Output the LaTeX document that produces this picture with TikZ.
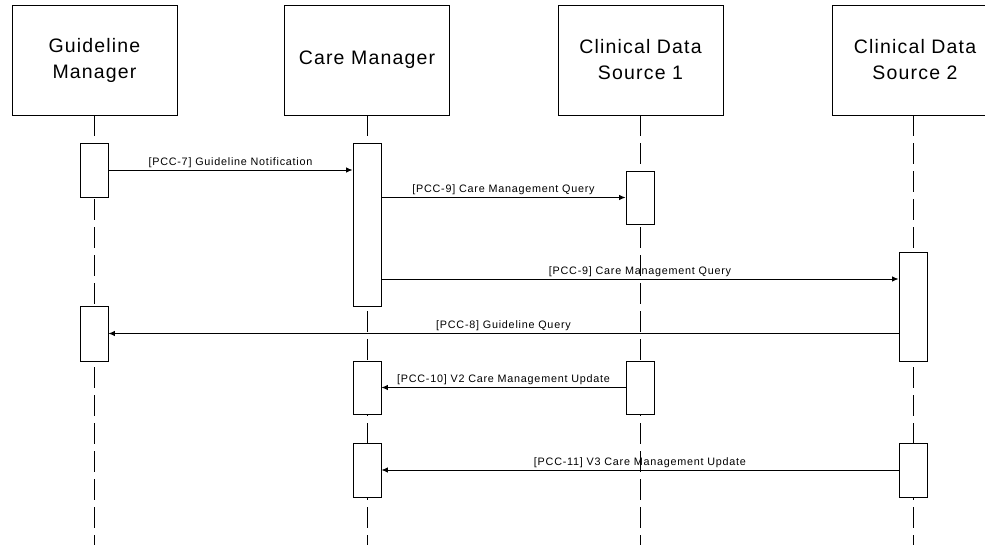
\documentclass[tikz,border=0pt]{standalone}
\usepackage{fontspec}
\setmainfont{Liberation Sans}
\newfontfamily\msgfont[LetterSpace=7]{Liberation Sans}
\newfontfamily\actorfont[LetterSpace=6]{Liberation Sans}
\usetikzlibrary{arrows.meta, positioning}
\tikzstyle{actor} = [draw, fill=white, rectangle, minimum width=165pt, minimum height=110pt, align=center, font=\actorfont\fontsize{19.5}{26}\selectfont]
\tikzstyle{act} = [draw, fill=white, rectangle, minimum width=28pt, inner sep=0pt]
\tikzstyle{lifeline} = [dash pattern=on 21pt off 7pt]
\tikzstyle{msglabel} = [above, inner sep=2pt, font=\msgfont\fontsize{10.8}{12}\selectfont]

\begin{document}
\begin{tikzpicture}[x=1pt, y=-1pt, line width=0.9pt, >={Latex[length=6.5pt,width=5.5pt]}]
      \useasboundingbox (0,0) rectangle (985,545);
      \clip (0,0) rectangle (985,545);
      % actors
      \node[actor] (GM) at (94.5,60) {Guideline\\Manager};
      \node[actor] (CM) at (367,60) {Care Manager};
      \node[actor] (CDSa) at (640.5,60) {Clinical Data\\Source 1};
      \node[actor] (CDSb) at (915,60) {Clinical Data\\Source 2};
      % lifelines
      \coordinate (GMend) at (94,545);
      \coordinate (CMend) at (367,545);
      \coordinate (CDSaend) at (640,545);
      \coordinate (CDSbend) at (913,545);
      \draw[lifeline] (GMend |- GM.south) -- (GMend);
      \draw[lifeline] (CM.south) -- (CMend);
      \draw[lifeline] (CDSaend |- CDSa.south) -- (CDSaend);
      \draw[lifeline] (CDSbend |- CDSb.south) -- (CDSbend);
      % activations
      \node[act, minimum height=54pt] (GMa1) at (94,170) {};
      \node[act, minimum height=55pt] (GMa2) at (94,333.5) {};
      \node[act, minimum height=163pt] (CMa1) at (367,224.5) {};
      \node[act, minimum height=53pt] (CMa2) at (367,387.5) {};
      \node[act, minimum height=54pt] (CMa3) at (367,470) {};
      \node[act, minimum height=53pt] (CDSa1) at (640,197.5) {};
      \node[act, minimum height=53pt] (CDSa2) at (640,387.5) {};
      \node[act, minimum height=109pt] (CDSb1) at (913,306.5) {};
      \node[act, minimum height=54pt] (CDSb2) at (913,470) {};
      % messages
      \coordinate (q2) at (0,279);
      \draw[->] (GMa1.east) -- node[msglabel] {[PCC-7] Guideline Notification} (GMa1.east -| CMa1.west);
      \draw[->] (CDSa1.west -| CMa1.east) -- node[msglabel] {[PCC-9] Care Management Query} (CDSa1.west);
      \draw[->] (CMa1.east |- q2) -- node[msglabel] {[PCC-9] Care Management Query} (CDSb1.west |- q2);
      \draw[->] (GMa2.east -| CDSb1.west) -- node[msglabel] {[PCC-8] Guideline Query} (GMa2.east);
      \draw[->] (CDSa2.west) -- node[msglabel] {[PCC-10] V2 Care Management Update} (CMa2.east);
      \draw[->] (CDSb2.west) -- node[msglabel] {[PCC-11] V3 Care Management Update} (CMa3.east);
\end{tikzpicture}
\end{document}
